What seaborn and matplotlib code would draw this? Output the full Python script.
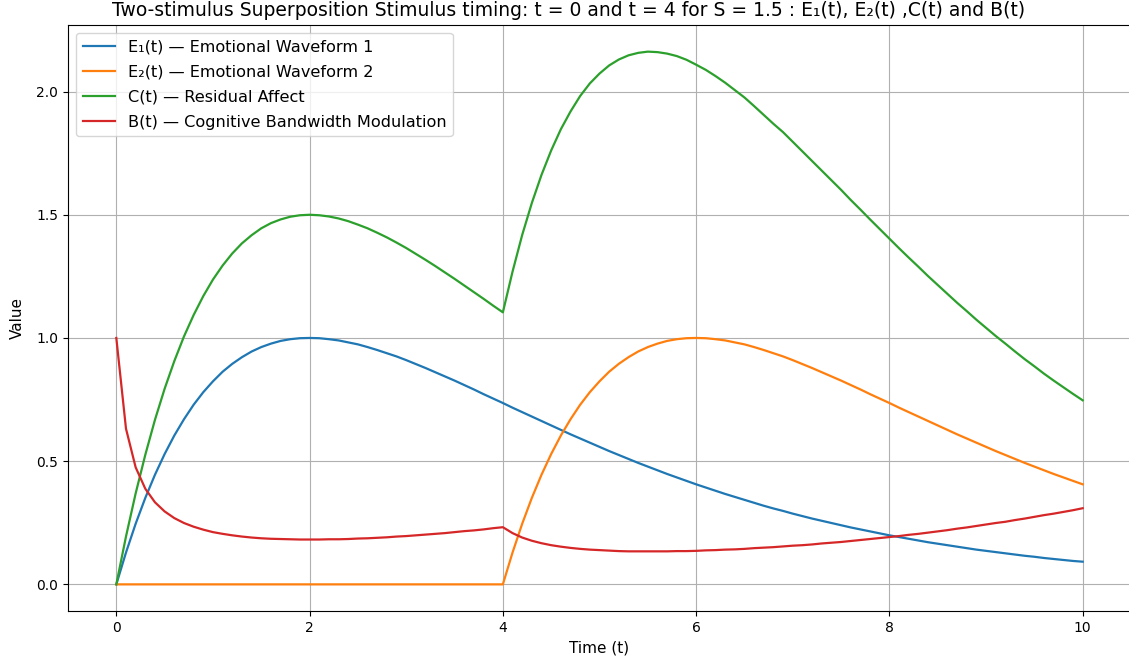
import numpy as np
import pandas as pd
import matplotlib
matplotlib.use("Agg")
import matplotlib.pyplot as plt
import seaborn as sns

# time grid (step 0.1)
t = [round(0.1 * i, 1) for i in range(101)]

e1 = [0.000, 0.129, 0.246, 0.351, 0.445, 0.529, 0.604, 0.670, 0.729, 0.780,
      0.824, 0.863, 0.895, 0.922, 0.945, 0.963, 0.977, 0.988, 0.995, 0.999,
      1.000, 0.999, 0.995, 0.990, 0.982, 0.974, 0.963, 0.951, 0.938, 0.925,
      0.910, 0.894, 0.878, 0.861, 0.844, 0.827, 0.809, 0.791, 0.772, 0.754,
      0.736, 0.717, 0.699, 0.681, 0.663, 0.645, 0.627, 0.609, 0.592, 0.575,
      0.558, 0.541, 0.525, 0.509, 0.493, 0.478, 0.463, 0.448, 0.434, 0.420,
      0.406, 0.393, 0.380, 0.367, 0.355, 0.343, 0.331, 0.319, 0.308, 0.298,
      0.287, 0.277, 0.267, 0.258, 0.249, 0.240, 0.231, 0.223, 0.215, 0.207,
      0.199, 0.192, 0.185, 0.178, 0.171, 0.165, 0.159, 0.153, 0.147, 0.141,
      0.136, 0.131, 0.126, 0.121, 0.116, 0.112, 0.107, 0.103, 0.099, 0.095,
      0.092]

e2 = [0.0] * 40 + [
      0.000, 0.129, 0.246, 0.351, 0.445, 0.529, 0.604, 0.670, 0.729, 0.780,
      0.824, 0.863, 0.895, 0.922, 0.945, 0.963, 0.977, 0.988, 0.995, 0.999,
      1.000, 0.999, 0.995, 0.990, 0.982, 0.974, 0.963, 0.951, 0.938, 0.925,
      0.910, 0.894, 0.878, 0.861, 0.844, 0.827, 0.809, 0.791, 0.772, 0.754,
      0.736, 0.717, 0.699, 0.681, 0.663, 0.645, 0.627, 0.609, 0.592, 0.575,
      0.558, 0.541, 0.525, 0.509, 0.493, 0.478, 0.463, 0.448, 0.434, 0.420,
      0.406]

c = [0.000, 0.194, 0.369, 0.526, 0.668, 0.794, 0.906, 1.006, 1.093, 1.170,
     1.237, 1.294, 1.343, 1.384, 1.417, 1.445, 1.466, 1.481, 1.492, 1.498,
     1.500, 1.498, 1.493, 1.485, 1.474, 1.460, 1.445, 1.427, 1.408, 1.387,
     1.365, 1.341, 1.317, 1.292, 1.266, 1.240, 1.213, 1.186, 1.159, 1.131,
     1.104, 1.269, 1.418, 1.548, 1.662, 1.761, 1.847, 1.919, 1.982, 2.033,
     2.073, 2.106, 2.130, 2.147, 2.157, 2.162, 2.160, 2.154, 2.144, 2.129,
     2.109, 2.088, 2.063, 2.036, 2.006, 1.976, 1.941, 1.905, 1.869, 1.835,
     1.796, 1.757, 1.718, 1.679, 1.640, 1.601, 1.560, 1.521, 1.481, 1.442,
     1.403, 1.364, 1.326, 1.289, 1.251, 1.215, 1.179, 1.143, 1.109, 1.074,
     1.041, 1.008, 0.977, 0.945, 0.914, 0.885, 0.855, 0.827, 0.800, 0.773,
     0.747]

b = [1.000, 0.632, 0.475, 0.388, 0.333, 0.296, 0.269, 0.249, 0.234, 0.222,
     0.212, 0.205, 0.199, 0.194, 0.190, 0.187, 0.185, 0.184, 0.183, 0.182,
     0.182, 0.182, 0.183, 0.183, 0.184, 0.186, 0.187, 0.189, 0.191, 0.194,
     0.196, 0.199, 0.202, 0.205, 0.208, 0.212, 0.216, 0.219, 0.223, 0.228,
     0.232, 0.208, 0.190, 0.177, 0.167, 0.159, 0.153, 0.148, 0.144, 0.141,
     0.139, 0.137, 0.135, 0.134, 0.134, 0.134, 0.134, 0.134, 0.135, 0.135,
     0.136, 0.138, 0.139, 0.141, 0.142, 0.144, 0.147, 0.149, 0.151, 0.154,
     0.157, 0.159, 0.162, 0.166, 0.169, 0.172, 0.176, 0.180, 0.184, 0.188,
     0.192, 0.196, 0.201, 0.205, 0.210, 0.215, 0.220, 0.226, 0.231, 0.237,
     0.243, 0.249, 0.254, 0.261, 0.267, 0.274, 0.281, 0.287, 0.294, 0.301,
     0.309]

labels = ["E\u2081(t) \u2014 Emotional Waveform 1",
          "E\u2082(t) \u2014 Emotional Waveform 2",
          "C(t) \u2014 Residual Affect",
          "B(t) \u2014 Cognitive Bandwidth Modulation"]
colors = ["#1f77b4", "#ff7f0e", "#2ca02c", "#d62728"]

fig = plt.figure(figsize=(11.29, 6.66), dpi=100)
ax = fig.add_axes([68 / 1129, 55 / 666, 1063 / 1129, 586 / 666])

for series, label, color in zip([e1, e2, c, b], labels, colors):
    sns.lineplot(x=t, y=series, ax=ax, label=label, color=color, linewidth=1.6)

ax.set_xticks([0, 2, 4, 6, 8, 10])
ax.set_yticks([0.0, 0.5, 1.0, 1.5, 2.0])
ax.set_xlabel("Time (t)", fontsize=11)
ax.set_ylabel("Value", fontsize=11, labelpad=8)
fig.text(569 / 1129, 1 - 11 / 666,
         "Two-stimulus Superposition Stimulus timing: t = 0 and t = 4 for S = 1.5 : "
         "E\u2081(t), E\u2082(t) ,C(t) and B(t)",
         fontsize=13.5, ha="center", va="center")
ax.grid(True)
ax.legend(loc="upper left", fontsize=11.6, labelspacing=0.63)

fig.savefig("out.png", dpi=100)
